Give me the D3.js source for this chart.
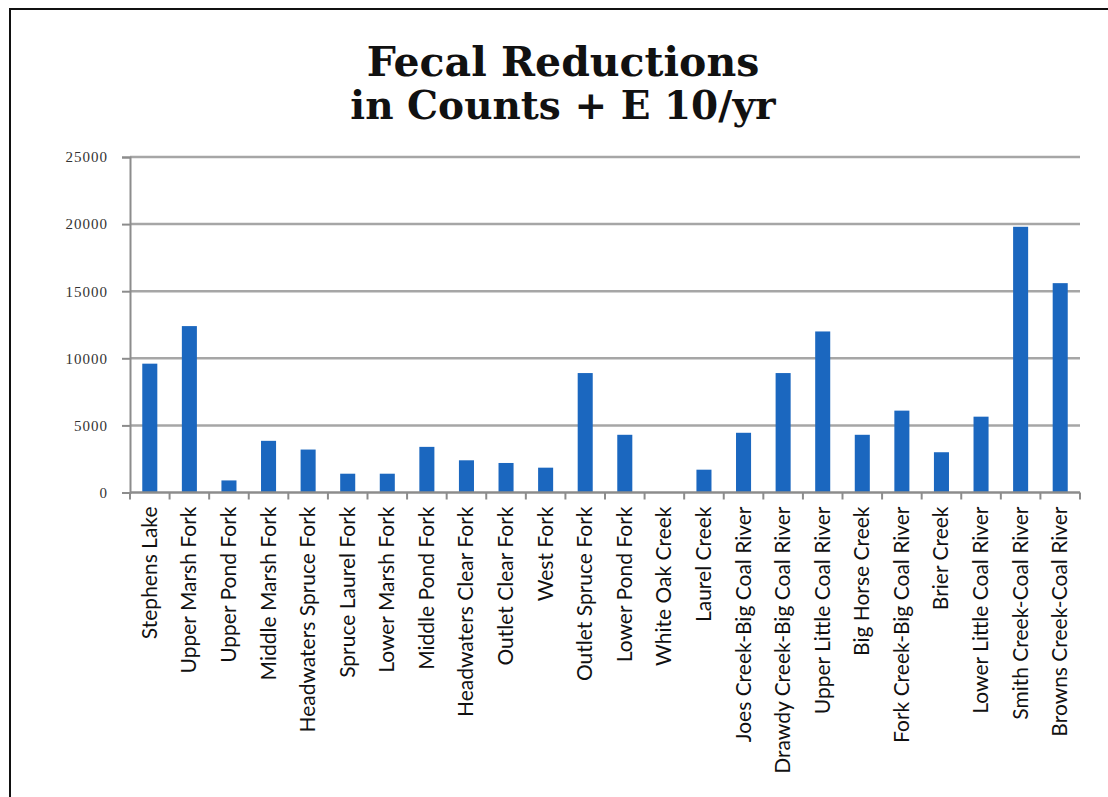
<!DOCTYPE html>
<html>
<head>
<meta charset="utf-8">
<script src="https://cdn.jsdelivr.net/npm/d3@7"></script>
<style>
  body { margin: 0; background: #fff; }
  svg { display: block; }
</style>
</head>
<body>
<svg id="chart" width="1108" height="797"></svg>
<script>
// data
const categories = [
  "Stephens Lake", "Upper Marsh Fork", "Upper Pond Fork", "Middle Marsh Fork",
  "Headwaters Spruce Fork", "Spruce Laurel Fork", "Lower Marsh Fork", "Middle Pond Fork",
  "Headwaters Clear Fork", "Outlet Clear Fork", "West Fork", "Outlet Spruce Fork",
  "Lower Pond Fork", "White Oak Creek", "Laurel Creek", "Joes Creek-Big Coal River",
  "Drawdy Creek-Big Coal River", "Upper Little Coal River", "Big Horse Creek",
  "Fork Creek-Big Coal River", "Brier Creek", "Lower Little Coal River",
  "Smith Creek-Coal River", "Browns Creek-Coal River"
];
const reductions = [
  9600, 12400, 900, 3850, 3200, 1400, 1400, 3400,
  2400, 2200, 1850, 8900, 4300, 0, 1700, 4450,
  8900, 12000, 4300, 6100, 3000, 5650, 19800, 15600
];
const yTicks = [0, 5000, 10000, 15000, 20000, 25000];
const titleLines = ["Fecal Reductions", "in Counts + E 10/yr"];

const svg = d3.select("#chart");
const margin = { top: 157, right: 28, bottom: 304.5, left: 130 };
const width = 1108 - margin.left - margin.right,
  height = 797 - margin.top - margin.bottom;

// frame round the picture
svg.append("rect")
  .attr("x", 10).attr("y", 9)
  .attr("width", 1120).attr("height", 820)
  .attr("fill", "none").attr("stroke", "#111").attr("stroke-width", 2);

svg.append("g")
  .selectAll("text")
  .data(titleLines)
  .enter()
  .append("text")
  .attr("x", 563)
  .attr("y", (d, i) => 76 + i * 43)
  .attr("text-anchor", "middle")
  .style("font-family", "'DejaVu Serif', 'Liberation Serif', serif")
  .style("font-weight", "bold")
  .style("font-size", (d, i) => (i === 0 ? "41px" : "39px"))
  .style("font-variant-numeric", "oldstyle-nums")
  .attr("fill", "#111")
  .text((d) => d);

const x = d3.scaleBand().domain(categories).range([0, width]).paddingInner(0.62).paddingOuter(0.31);
const y = d3.scaleLinear().domain([0, 25000]).range([height, 0]);

const g = svg.append("g").attr("transform", `translate(${margin.left},${margin.top})`);

// gridlines
g.append("g")
  .selectAll("line")
  .data(yTicks.slice(1))
  .enter()
  .append("line")
  .attr("x1", 0).attr("x2", width)
  .attr("y1", (d) => y(d)).attr("y2", (d) => y(d))
  .attr("stroke", "#a6a6a6").attr("stroke-width", 2.5);

// bars
g.selectAll("rect.bar")
  .data(reductions)
  .enter()
  .append("rect")
  .attr("class", "bar")
  .attr("x", (d, i) => x(categories[i]))
  .attr("width", x.bandwidth())
  .attr("y", (d) => y(d))
  .attr("height", (d) => height - y(d))
  .attr("fill", "#1b67bf");

// y axis
const yAxis = g.append("g")
  .call(d3.axisLeft(y).tickValues(yTicks).tickSize(8).tickPadding(14).tickFormat(d3.format("d")));
yAxis.attr("font-family", null);
yAxis.select(".domain").attr("stroke", "#8c8c8c").attr("stroke-width", 2);
yAxis.selectAll(".tick line").attr("stroke", "#8c8c8c").attr("stroke-width", 2);
yAxis.selectAll("text")
  .style("font-family", "'Liberation Serif', 'DejaVu Serif', serif")
  .style("font-size", "15px")
  .style("letter-spacing", "1px")
  .style("font-variant-numeric", "oldstyle-nums")
  .attr("fill", "#333");

// x axis: ticks sit between categories
const step = x.step();
const xAxis = g.append("g").attr("transform", `translate(0,${height})`);
xAxis.append("line")
  .attr("x1", 0).attr("x2", width)
  .attr("stroke", "#8c8c8c").attr("stroke-width", 2.5);
xAxis.selectAll("line.tk")
  .data(d3.range(categories.length + 1))
  .enter()
  .append("line")
  .attr("class", "tk")
  .attr("x1", (d) => d * step).attr("x2", (d) => d * step)
  .attr("y1", 0).attr("y2", 7)
  .attr("stroke", "#8c8c8c").attr("stroke-width", 2);
xAxis.selectAll("text")
  .data(categories)
  .enter()
  .append("text")
  .attr("transform", (d) => `translate(${x(d) + x.bandwidth() / 2 + 7},14) rotate(-90)`)
  .attr("text-anchor", "end")
  .style("font-family", "Lato, 'Open Sans', sans-serif")
  .style("font-size", "21px")
  .attr("fill", "#111")
  .text((d) => d);
</script>
</body>
</html>
